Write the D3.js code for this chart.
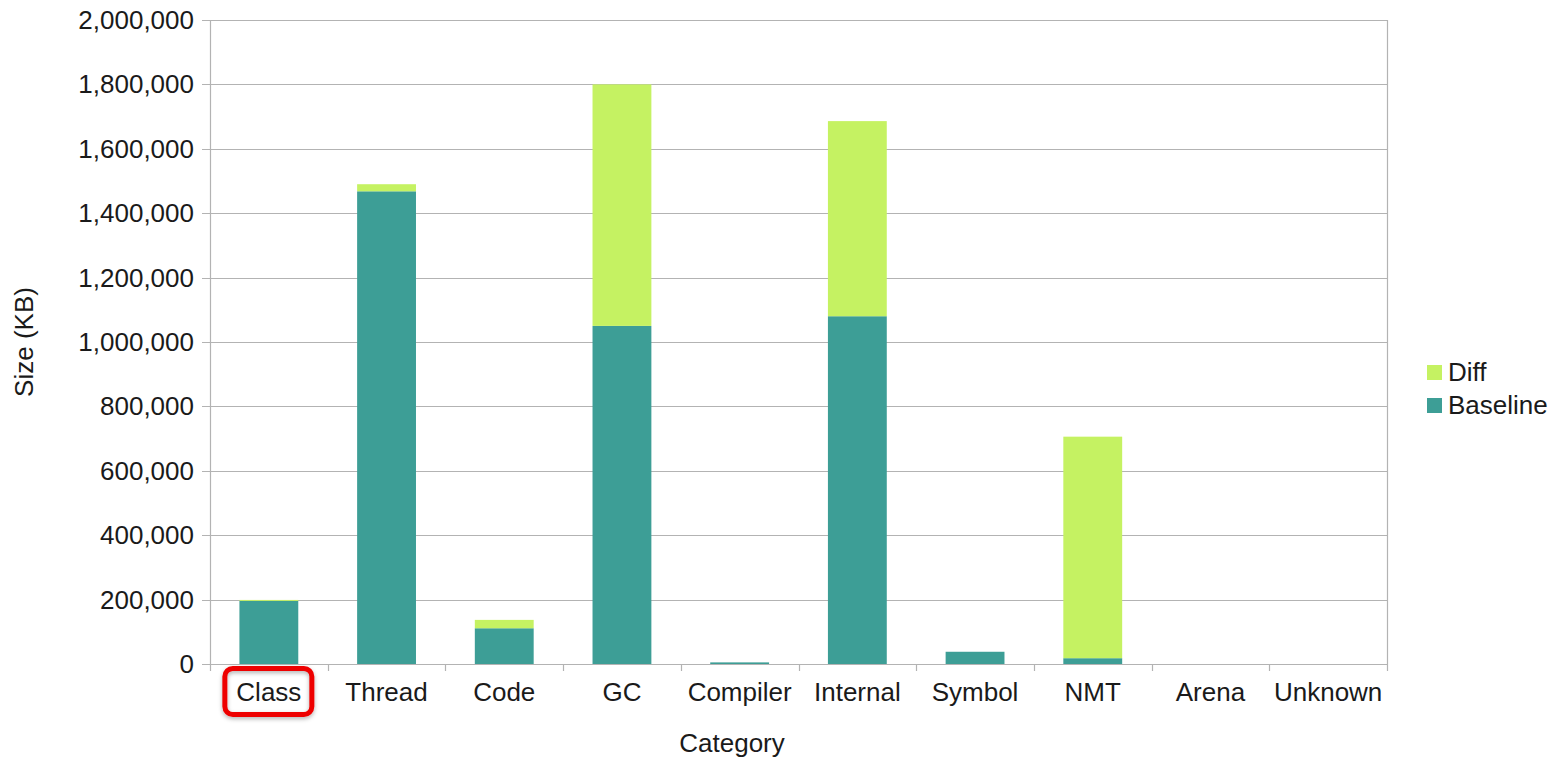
<!DOCTYPE html>
<html>
<head>
<meta charset="utf-8">
<script src="https://cdn.jsdelivr.net/npm/d3@7"></script>
<style>
	body { margin: 0; background: #fff; }
	text { font-family: "Liberation Sans", Arial, sans-serif; fill: #1a1a1a; }
</style>
</head>
<body>
<div id="chart"></div>
<script>
let categories = ["Class", "Thread", "Code", "GC", "Compiler", "Internal", "Symbol", "NMT", "Arena", "Unknown"];
let baseline = [196000, 1468000, 111000, 1050000, 5000, 1080000, 38000, 18000, 0, 0];
let diff = [3000, 22000, 26000, 750000, 0, 606000, 0, 688000, 0, 0];
let seriesNames = ["Baseline", "Diff"];
let yTicks = d3.range(0, 2000001, 200000);

let width = 1553;
let height = 759;
let margin = { top: 20, right: 166, bottom: 95, left: 210 };

let colors = { Baseline: "#3d9e96", Diff: "#c5f262" };

let rows = categories.map((c, i) => ({ category: c, Baseline: baseline[i], Diff: diff[i] }));
let stacked = d3.stack().keys(seriesNames)(rows);

let xScale = d3.scaleBand()
	.domain(categories)
	.range([margin.left, width - margin.right])
	.paddingInner(0.5)
	.paddingOuter(0.25);

let yScale = d3.scaleLinear()
	.domain([0, 2000000])
	.range([height - margin.bottom, margin.top]);

let svg = d3.select('#chart')
	.append('svg')
	.attr('width', width)
	.attr('height', height);

// gridlines
svg.append('g')
	.selectAll('line')
	.data(yTicks)
	.enter()
	.append('line')
	.attr('x1', margin.left - 8)
	.attr('x2', width - margin.right)
	.attr('y1', d => Math.round(yScale(d)) + 0.5)
	.attr('y2', d => Math.round(yScale(d)) + 0.5)
	.attr('stroke', '#b3b3b3')
	.attr('stroke-width', 1.2);

// vertical frame lines
[margin.left, width - margin.right].forEach(x => {
	svg.append('line')
		.attr('x1', x + 0.5).attr('x2', x + 0.5)
		.attr('y1', margin.top).attr('y2', height - margin.bottom + 7)
		.attr('stroke', '#b3b3b3')
		.attr('stroke-width', 1.2);
});

// category ticks between bands
let step = xScale.step();
svg.append('g')
	.selectAll('line')
	.data(categories.slice(1))
	.enter()
	.append('line')
	.attr('x1', d => Math.round(xScale(d) - step * 0.25) + 0.5)
	.attr('x2', d => Math.round(xScale(d) - step * 0.25) + 0.5)
	.attr('y1', height - margin.bottom)
	.attr('y2', height - margin.bottom + 7)
	.attr('stroke', '#b3b3b3')
	.attr('stroke-width', 1.2);

// bars
svg.append('g')
	.selectAll('g')
	.data(stacked)
	.enter()
	.append('g')
	.attr('fill', d => colors[d.key])
	.selectAll('rect')
	.data(d => d)
	.enter()
	.append('rect')
	.attr('x', d => xScale(d.data.category))
	.attr('width', xScale.bandwidth())
	.attr('y', d => yScale(d[1]))
	.attr('height', d => yScale(d[0]) - yScale(d[1]));

// y tick labels
svg.append('g')
	.selectAll('text')
	.data(yTicks)
	.enter()
	.append('text')
	.attr('x', margin.left - 16)
	.attr('y', d => yScale(d) + 9)
	.attr('text-anchor', 'end')
	.style('font-size', '26px')
	.text(d => d3.format(",")(d));

// category labels
svg.append('g')
	.selectAll('text')
	.data(categories)
	.enter()
	.append('text')
	.attr('x', d => xScale(d) + xScale.bandwidth() / 2)
	.attr('y', height - margin.bottom + 37)
	.attr('text-anchor', 'middle')
	.style('font-size', '26px')
	.text(d => d);

// axis titles
svg.append('text')
	.attr('x', 732)
	.attr('y', 752)
	.attr('text-anchor', 'middle')
	.style('font-size', '26px')
	.text('Category');

svg.append('text')
	.attr('transform', `translate(33,${(margin.top + height - margin.bottom) / 2}) rotate(-90)`)
	.attr('text-anchor', 'middle')
	.style('font-size', '26px')
	.text('Size (KB)');

// legend
let legendItems = ["Diff", "Baseline"];
let legend = svg.append('g')
	.selectAll('g')
	.data(legendItems)
	.enter()
	.append('g')
	.attr('transform', (d, i) => `translate(1427,${365 + i * 33})`);

legend.append('rect')
	.attr('width', 15)
	.attr('height', 15)
	.attr('fill', d => colors[d]);

legend.append('text')
	.attr('x', 21)
	.attr('y', 16)
	.style('font-size', '26px')
	.text(d => d);

// highlight around the first category label
let defs = svg.append('defs');
let shadow = defs.append('filter').attr('id', 'shadow').attr('x', '-20%').attr('y', '-20%').attr('width', '140%').attr('height', '150%');
shadow.append('feDropShadow').attr('dx', 0).attr('dy', 2).attr('stdDeviation', 2).attr('flood-color', '#000').attr('flood-opacity', 0.3);

let cx = xScale("Class") + xScale.bandwidth() / 2;
svg.append('rect')
	.attr('x', cx - 44)
	.attr('y', 668.5)
	.attr('width', 87)
	.attr('height', 46)
	.attr('rx', 8)
	.attr('fill', 'none')
	.attr('stroke', '#ee0000')
	.attr('stroke-width', 5)
	.attr('filter', 'url(#shadow)');
</script>
</body>
</html>
